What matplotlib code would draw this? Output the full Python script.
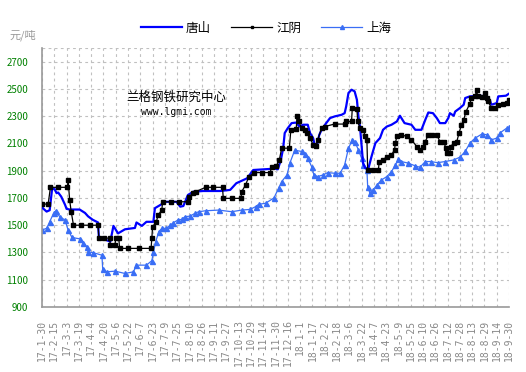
import pandas as pd
import matplotlib
matplotlib.use("Agg")
import matplotlib.pyplot as plt

plt.rcParams['font.family'] = ['Noto Sans CJK SC', 'DejaVu Sans']

# 唐山
ts_dates = ["2017-01-30", "2017-01-31", "2017-02-05", "2017-02-09", "2017-02-12", "2017-02-15",
            "2017-02-18", "2017-02-20", "2017-02-24", "2017-03-01", "2017-03-03", "2017-03-07",
            "2017-03-20", "2017-03-27", "2017-03-31", "2017-04-06", "2017-04-13", "2017-04-14",
            "2017-04-24", "2017-04-29", "2017-05-03", "2017-05-09", "2017-05-18", "2017-05-31",
            "2017-06-02", "2017-06-09", "2017-06-15", "2017-06-24", "2017-06-26", "2017-07-05",
            "2017-07-07", "2017-07-24", "2017-07-29", "2017-08-02", "2017-08-08", "2017-08-15",
            "2017-08-28", "2017-09-19", "2017-10-02", "2017-10-10", "2017-10-24", "2017-11-01",
            "2017-11-29", "2017-12-03", "2017-12-07", "2017-12-10", "2017-12-12", "2017-12-16",
            "2017-12-21", "2017-12-27", "2017-12-31", "2018-01-05", "2018-01-11", "2018-01-14",
            "2018-01-18", "2018-01-20", "2018-01-23", "2018-01-26", "2018-01-29", "2018-02-04",
            "2018-02-09", "2018-02-15", "2018-02-24", "2018-02-28", "2018-03-02", "2018-03-05",
            "2018-03-09", "2018-03-13", "2018-03-16", "2018-03-18", "2018-03-20", "2018-03-24",
            "2018-03-27", "2018-03-31", "2018-04-04", "2018-04-09", "2018-04-15", "2018-04-19",
            "2018-04-24", "2018-04-30", "2018-05-07", "2018-05-11", "2018-05-17", "2018-05-26",
            "2018-05-31", "2018-06-08", "2018-06-13", "2018-06-17", "2018-06-23", "2018-06-28",
            "2018-07-02", "2018-07-09", "2018-07-13", "2018-07-15", "2018-07-20", "2018-07-22",
            "2018-07-28", "2018-08-02", "2018-08-04", "2018-08-10", "2018-08-23", "2018-08-30",
            "2018-09-05", "2018-09-07", "2018-09-14", "2018-09-16", "2018-09-26", "2018-09-30"]
ts_vals = [1650, 1625, 1600, 1610, 1760, 1770,
           1735, 1740, 1710, 1650, 1620, 1615,
           1615, 1590, 1565, 1540, 1520, 1415,
           1390, 1380, 1495, 1440, 1470, 1480,
           1520, 1495, 1525, 1525, 1625, 1655,
           1672, 1672, 1636, 1641, 1722, 1746,
           1751, 1751, 1759, 1808, 1844, 1905,
           1915, 1910, 1979, 2065, 2176, 2212,
           2249, 2253, 2224, 2237, 2237, 2176,
           2139, 2089, 2089, 2163, 2200, 2249,
           2286, 2298, 2310, 2322, 2371, 2470,
           2494, 2482, 2420, 2298, 2224, 1955,
           1918, 1918, 2004, 2102, 2139, 2200,
           2224, 2237, 2261, 2303, 2249, 2237,
           2200, 2200, 2273, 2327, 2322, 2286,
           2249, 2249, 2286, 2322, 2303, 2334,
           2359, 2384, 2433, 2445, 2450, 2445,
           2420, 2384, 2396, 2445, 2450, 2465]

# 江阴
jy_dates = ["2017-01-30", "2017-02-07", "2017-02-10", "2017-02-20", "2017-03-04", "2017-03-05",
            "2017-03-07", "2017-03-09", "2017-03-12", "2017-03-22", "2017-04-02", "2017-04-13",
            "2017-04-14", "2017-04-21", "2017-04-28", "2017-04-29", "2017-05-05", "2017-05-06",
            "2017-05-10", "2017-05-11", "2017-05-22", "2017-06-05", "2017-06-21", "2017-06-22",
            "2017-06-23", "2017-06-28", "2017-06-30", "2017-07-05", "2017-07-06", "2017-07-17",
            "2017-07-28", "2017-08-08", "2017-08-09", "2017-08-15", "2017-08-18", "2017-08-31",
            "2017-09-10", "2017-09-22", "2017-09-23", "2017-10-05", "2017-10-16", "2017-10-17",
            "2017-10-22", "2017-10-26", "2017-11-02", "2017-11-12", "2017-11-23", "2017-11-25",
            "2017-12-01", "2017-12-05", "2017-12-08", "2017-12-18", "2017-12-20", "2017-12-27",
            "2017-12-28", "2017-12-30", "2018-01-03", "2018-01-07", "2018-01-10", "2018-01-14",
            "2018-01-18", "2018-01-22", "2018-01-24", "2018-01-29", "2018-02-02", "2018-02-15",
            "2018-02-28", "2018-03-02", "2018-03-09", "2018-03-10", "2018-03-16", "2018-03-17",
            "2018-03-20", "2018-03-24", "2018-03-27", "2018-03-29", "2018-03-30", "2018-04-06",
            "2018-04-13", "2018-04-14", "2018-04-19", "2018-04-24", "2018-04-30", "2018-05-04",
            "2018-05-05", "2018-05-07", "2018-05-13", "2018-05-20", "2018-05-26", "2018-06-02",
            "2018-06-06", "2018-06-10", "2018-06-13", "2018-06-17", "2018-06-22", "2018-06-28",
            "2018-07-02", "2018-07-07", "2018-07-10", "2018-07-11", "2018-07-15", "2018-07-16",
            "2018-07-20", "2018-07-24", "2018-07-27", "2018-07-30", "2018-08-02", "2018-08-05",
            "2018-08-10", "2018-08-12", "2018-08-17", "2018-08-19", "2018-08-20", "2018-08-26",
            "2018-08-30", "2018-09-01", "2018-09-03", "2018-09-07", "2018-09-12", "2018-09-16",
            "2018-09-22", "2018-09-27", "2018-09-30"]
jy_vals = [1655, 1655, 1778, 1778, 1778, 1832,
           1685, 1600, 1500, 1500, 1500, 1500,
           1405, 1405, 1405, 1355, 1355, 1405,
           1405, 1330, 1330, 1330, 1330, 1405,
           1490, 1525, 1575, 1610, 1672, 1672,
           1672, 1672, 1709, 1734, 1746, 1778,
           1778, 1778, 1697, 1697, 1697, 1746,
           1795, 1852, 1886, 1886, 1886, 1930,
           1935, 1979, 2065, 2065, 2200, 2205,
           2303, 2261, 2212, 2200, 2176, 2139,
           2089, 2082, 2126, 2212, 2224, 2242,
           2242, 2261, 2261, 2359, 2352, 2261,
           2212, 2200, 2151, 2126, 1905, 1905,
           1905, 1967, 1979, 2004, 2016, 2053,
           2102, 2151, 2163, 2151, 2126, 2077,
           2053, 2077, 2114, 2163, 2163, 2163,
           2114, 2109, 2065, 2033, 2033, 2077,
           2102, 2114, 2176, 2237, 2273, 2334,
           2391, 2433, 2445, 2494, 2445, 2440,
           2470, 2433, 2408, 2359, 2359, 2384,
           2391, 2396, 2420]

# 上海
sh_dates = ["2017-01-30", "2017-02-05", "2017-02-09", "2017-02-14", "2017-02-17", "2017-02-22",
            "2017-03-01", "2017-03-05", "2017-03-10", "2017-03-20", "2017-03-25", "2017-03-29",
            "2017-03-31", "2017-04-07", "2017-04-18", "2017-04-19", "2017-04-24", "2017-05-05",
            "2017-05-18", "2017-05-29", "2017-06-02", "2017-06-15", "2017-06-22", "2017-06-24",
            "2017-06-27", "2017-07-01", "2017-07-05", "2017-07-11", "2017-07-16", "2017-07-20",
            "2017-07-26", "2017-07-31", "2017-08-04", "2017-08-11", "2017-08-17", "2017-08-22",
            "2017-08-31", "2017-09-17", "2017-10-04", "2017-10-17", "2017-10-28", "2017-11-04",
            "2017-11-08", "2017-11-17", "2017-11-28", "2017-12-04", "2017-12-08", "2017-12-15",
            "2017-12-19", "2017-12-25", "2018-01-03", "2018-01-07", "2018-01-11", "2018-01-16",
            "2018-01-19", "2018-01-24", "2018-01-31", "2018-02-06", "2018-02-15", "2018-02-22",
            "2018-02-28", "2018-03-05", "2018-03-10", "2018-03-13", "2018-03-18", "2018-03-22",
            "2018-03-24", "2018-03-29", "2018-03-30", "2018-04-02", "2018-04-06", "2018-04-11",
            "2018-04-17", "2018-04-24", "2018-04-30", "2018-05-05", "2018-05-09", "2018-05-13",
            "2018-05-22", "2018-05-31", "2018-06-06", "2018-06-13", "2018-06-20", "2018-06-29",
            "2018-07-09", "2018-07-20", "2018-07-28", "2018-08-04", "2018-08-10", "2018-08-17",
            "2018-08-26", "2018-09-01", "2018-09-07", "2018-09-14", "2018-09-18", "2018-09-27",
            "2018-09-30"]
sh_vals = [1465, 1477, 1525, 1587, 1606, 1562,
           1538, 1464, 1410, 1400, 1371, 1341,
           1305, 1298, 1280, 1182, 1158, 1163,
           1146, 1158, 1207, 1207, 1240, 1300,
           1378, 1452, 1477, 1477, 1501, 1518,
           1538, 1543, 1562, 1567, 1587, 1599,
           1606, 1611, 1599, 1611, 1616, 1636,
           1653, 1661, 1700, 1771, 1820, 1869,
           1960, 2050, 2041, 2023, 1992, 1930,
           1869, 1857, 1869, 1886, 1881, 1881,
           1942, 2065, 2126, 2114, 2053, 1992,
           1942, 1905, 1783, 1734, 1759, 1795,
           1832, 1857, 1893, 1942, 1984, 1967,
           1955, 1935, 1925, 1967, 1967, 1959,
           1967, 1979, 1999, 2041, 2102, 2139,
           2170, 2163, 2126, 2139, 2176, 2212,
           2217]

tick_dates = pd.date_range("2017-01-30", "2018-09-30", freq="16D")
y_ticks = [900, 1100, 1300, 1500, 1700, 1900, 2100, 2300, 2500, 2700]

fig = plt.figure(figsize=(5.26, 3.72), dpi=100)
ax = fig.add_axes([42/526, 1 - 307/372, 467/526, 259/372])

ax.plot(pd.to_datetime(ts_dates), ts_vals, color="#0000FF", lw=1.6, label="唐山", zorder=3)
ax.plot(pd.to_datetime(jy_dates), jy_vals, color="black", lw=0.9, marker="s", ms=2.6,
        label="江阴", zorder=4)
ax.plot(pd.to_datetime(sh_dates), sh_vals, color="#3A6EF5", lw=0.9, marker="^", ms=3.6,
        label="上海", zorder=2)

ax.set_xlim(tick_dates[0], tick_dates[-1])
ax.set_ylim(900, 2800)
ax.set_yticks(y_ticks)
ax.set_xticks(tick_dates)
ax.set_xticklabels([f"{d.year % 100}-{d.month}-{d.day}" for d in tick_dates],
                   rotation=90, family="DejaVu Sans Mono", fontsize=7, color="#888888")
ax.tick_params(axis="y", length=0, pad=10, labelsize=7, labelcolor="#008000")
ax.tick_params(axis="x", length=0, pad=9)

ax.grid(True, color="#C0C0C0", linestyle=(0, (2.5, 3)), lw=0.8, zorder=0)
ax.axhline(2800, color="#C0C0C0", linestyle=(0, (2.5, 3)), lw=0.8, zorder=0)
for s in ["top", "right"]:
    ax.spines[s].set_visible(False)
for s in ["left", "bottom"]:
    ax.spines[s].set_color("#999999")
    ax.spines[s].set_linewidth(1.2)

fig.text(10/526, 1 - 35/372, "元/吨", fontsize=8, color="#999999", va="center")
fig.text(176/526, 1 - 97/372, "兰格钢铁研究中心", fontsize=9, ha="center", va="center")
fig.text(176/526, 1 - 112/372, "www.lgmi.com", fontsize=7, ha="center", va="center",
         family="DejaVu Sans Mono")

fig.legend(loc="center", bbox_to_anchor=(266/526, 1 - 28/372), ncol=3, frameon=False,
           fontsize=9, handlelength=3.3, handletextpad=0.3, columnspacing=1.6,
           numpoints=1, markerscale=0.8)

fig.savefig("out.png", dpi=100)
